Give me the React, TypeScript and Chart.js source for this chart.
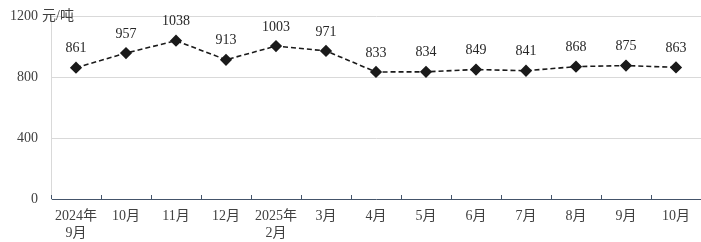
import React, { useEffect, useRef } from "react";
import { Chart, registerables } from "chart.js";

Chart.register(...registerables);

const categories: (string | string[])[] = [
  ["2024年", "9月"], "10月", "11月", "12月", ["2025年", "2月"], "3月",
  "4月", "5月", "6月", "7月", "8月", "9月", "10月",
];
const prices = [861, 957, 1038, 913, 1003, 971, 833, 834, 849, 841, 868, 875, 863];
const yTicks = [0, 400, 800, 1200];
const unitLabel = "元/吨";

const FONT = "'Liberation Serif', 'Noto Sans CJK SC', serif";

const extras = {
  id: "extras",
  afterDatasetsDraw(chart: any) {
    const ctx = chart.ctx;
    const meta = chart.getDatasetMeta(0);
    ctx.save();
    ctx.font = `14px ${FONT}`;
    ctx.fillStyle = "#262626";
    ctx.textAlign = "center";
    ctx.textBaseline = "middle";
    meta.data.forEach((pt: any, i: number) => {
      ctx.fillText(String(prices[i]), pt.x, pt.y - 19);
    });
    // unit after top tick label
    const y = chart.scales.y;
    const yTop = y.getPixelForValue(yTicks[yTicks.length - 1]);
    ctx.textAlign = "left";
    ctx.fillStyle = "#404040";
    ctx.fillText(unitLabel, 42, yTop);
    // upward tick marks on x axis
    const x = chart.scales.x;
    const n = categories.length;
    ctx.strokeStyle = "#44546a";
    ctx.lineWidth = 1;
    const step = (x.right - x.left) / n;
    for (let i = 0; i <= n; i++) {
      const px = Math.round(x.left + i * step) + 0.5;
      ctx.beginPath();
      ctx.moveTo(px, x.top);
      ctx.lineTo(px, x.top - 4);
      ctx.stroke();
    }
    ctx.restore();
  },
};

export default function App() {
  const ref = useRef<HTMLCanvasElement>(null);
  useEffect(() => {
    document.body.style.margin = "0";
    const chart = new Chart(ref.current!, {
      type: "line",
      data: {
        labels: categories,
        datasets: [
          {
            data: prices,
            borderColor: "#1a1a1a",
            borderWidth: 1.6,
            borderDash: [5, 3],
            pointStyle: "rectRot",
            pointRadius: 5,
            pointBackgroundColor: "#1a1a1a",
            pointBorderColor: "#1a1a1a",
            tension: 0,
            clip: false,
          },
        ],
      },
      options: {
        animation: false,
        responsive: false,
        devicePixelRatio: 1,
        layout: { autoPadding: false, padding: { top: 16, right: 0, left: 0, bottom: 0 } },
        plugins: { legend: { display: false }, tooltip: { enabled: false } },
        scales: {
          x: {
            offset: true,
            grid: { display: false, drawTicks: false },
            border: { display: true, color: "#44546a", width: 1 },
            ticks: {
              font: { family: FONT, size: 14 },
              color: "#404040",
              padding: 9,
              maxRotation: 0,
              autoSkip: false,
            },
            afterFit: (s: any) => {
              s.height = 43;
              s.paddingLeft = 0;
              s.paddingRight = 0;
            },
          },
          y: {
            min: 0,
            max: 1200,
            afterBuildTicks: (s: any) => {
              s.ticks = yTicks.map((v) => ({ value: v }));
            },
            grid: { color: "#d9d9d9", drawTicks: false },
            border: { display: true, color: "#d9d9d9" },
            ticks: {
              font: { family: FONT, size: 14 },
              color: "#404040",
              padding: 13,
              callback: (v: any) => String(v),
            },
            afterFit: (s: any) => {
              s.width = 51;
              s.paddingTop = 0;
              s.paddingBottom = 0;
            },
          },
        },
      },
      plugins: [extras],
    });
    return () => chart.destroy();
  }, []);
  return (
    <div style={{ position: "absolute", left: 0, top: 0, width: 701, height: 242 }}>
      <canvas ref={ref} width={701} height={242} style={{ width: 701, height: 242 }} />
    </div>
  );
}
